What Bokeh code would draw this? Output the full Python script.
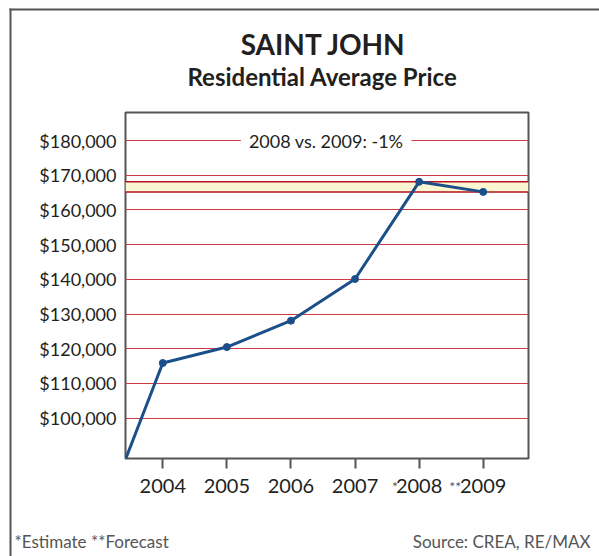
from bokeh.plotting import figure
from bokeh.models import Label, BoxAnnotation, Span, FixedTicker, Range1d
from bokeh.core.properties import value
from bokeh.embed import file_html
from bokeh.resources import INLINE

# ---- data ----
years = [2003, 2004, 2005, 2006, 2007, 2008, 2009]
prices = [68200, 115900, 120500, 128100, 140100, 168100, 165200]
tick_years = [2004, 2005, 2006, 2007, 2008, 2009]
tick_labels = ["2004", "2005", "2006", "2007", "2008", "2009"]
tick_marks = ["", "", "", "", "*", "**"]
y_ticks = [100000, 110000, 120000, 130000, 140000, 150000, 160000, 170000, 180000]
y_tick_labels = ["$100,000", "$110,000", "$120,000", "$130,000", "$140,000",
                 "$150,000", "$160,000", "$170,000", "$180,000"]
band_low, band_high = 165200, 168100
title_text = "SAINT JOHN"
subtitle_text = "Residential Average Price"
note_text = "2008 vs. 2009: -1%"
footnote_text = "*Estimate **Forecast"
source_text = "Source: CREA, RE/MAX"

# ---- layout ----
W, H = 599, 556
FL, FR, FT, FB = 125, 528, 112, 458   # frame edges in canvas pixels
X0, X1 = 2003.418, 2009.707
Y0, Y1 = 88390, 188067
FONT = "Lato"
TXT = "#231f20"
RED = "#cf3a45"
BLUE = "#1b4f8a"


def cx(px):
    return X0 + (px - FL) / (FR - FL) * (X1 - X0)


def cy(py):
    return Y0 + (FB - py) / (FB - FT) * (Y1 - Y0)


p = figure(width=W, height=H, output_backend="svg", toolbar_location=None,
           x_range=Range1d(X0, X1), y_range=Range1d(Y0, Y1),
           min_border_left=FL, min_border_right=W - FR,
           min_border_top=FT, min_border_bottom=H - FB)
p.title.visible = False
p.background_fill_color = "white"
p.border_fill_color = "white"
p.outline_line_color = "#555555"
p.outline_line_width = 2

# grid
p.xgrid.grid_line_color = None
p.ygrid.ticker = FixedTicker(ticks=y_ticks)
p.ygrid.grid_line_color = RED
p.ygrid.grid_line_width = 1

# axes
p.yaxis.ticker = FixedTicker(ticks=y_ticks)
p.yaxis.major_label_overrides = {t: l for t, l in zip(y_ticks, y_tick_labels)}
p.yaxis.major_tick_line_color = None
p.yaxis.minor_tick_line_color = None
p.yaxis.axis_line_color = None
p.yaxis.major_label_standoff = 3
p.yaxis.major_label_text_font = FONT
p.yaxis.major_label_text_font_size = "18px"
p.yaxis.major_label_text_color = TXT

p.xaxis.ticker = FixedTicker(ticks=tick_years)
p.xaxis.major_label_overrides = {t: l for t, l in zip(tick_years, tick_labels)}
p.xaxis.major_tick_out = 10
p.xaxis.major_tick_in = 0
p.xaxis.major_tick_line_color = "#555555"
p.xaxis.major_tick_line_width = 2
p.xaxis.minor_tick_line_color = None
p.xaxis.axis_line_color = None
p.xaxis.major_label_standoff = 10
p.xaxis.major_label_text_font = FONT
p.xaxis.major_label_text_font_size = "20px"
p.xaxis.major_label_text_color = TXT

# highlight band
p.add_layout(BoxAnnotation(bottom=band_low, top=band_high, fill_color="#fdf6d2",
                           fill_alpha=1, line_color=None, level="underlay"))
for v in (band_low, band_high):
    p.add_layout(Span(location=v, dimension="width", line_color="#b5121b",
                      line_width=1.5, level="underlay"))

# series
p.line(years, prices, line_width=3, color=BLUE)
p.scatter(years[1:], prices[1:], size=7, color=BLUE)

# comparison note
p.add_layout(Label(x=2006.55, y=180000, text=note_text, text_align="center",
                   text_baseline="middle", text_font=FONT, text_font_size="18px",
                   text_color=TXT, background_fill_color="white", padding=8))

# titles (drawn outside the frame at overlay level)
p.text(x=[cx(323)], y=[cy(43)], text=[title_text], text_align="center",
       text_baseline="alphabetic", text_font=value(FONT), text_font_style="bold",
       text_font_size=value("28px"), text_color=TXT, level="overlay")
p.text(x=[cx(322)], y=[cy(76)], text=[subtitle_text], text_align="center",
       text_baseline="alphabetic", text_font=value(FONT), text_font_style="bold",
       text_font_size=value("24px"), text_color=TXT, level="overlay")

# asterisks on tick labels
mx = [yr for yr, m in zip(tick_years, tick_marks) if m]
mt = [m for m in tick_marks if m]
p.text(x=mx, y=[cy(477)] * len(mx), text=mt, x_offset=[-27, -34][:len(mx)],
       text_align="left", text_baseline="top", text_font=value(FONT),
       text_font_size=value("14px"), text_color="#555555", level="overlay")

# footer
p.text(x=[cx(14)], y=[cy(541)], text=[footnote_text], text_align="left",
       text_baseline="alphabetic", text_font=value(FONT), text_font_size=value("17px"),
       text_color="#555555", level="overlay")
p.text(x=[cx(590)], y=[cy(541)], text=[source_text], text_align="right",
       text_baseline="alphabetic", text_font=value(FONT), text_font_size=value("17px"),
       text_color="#555555", level="overlay")

# outer frame (top and left edges)
p.quad(left=[cx(9), cx(9)], right=[cx(600), cx(11)], top=[cy(8), cy(8)],
       bottom=[cy(10), cy(557)], fill_color="#555555", line_color=None, level="overlay")

open("out.html", "w").write(file_html(p, INLINE))
